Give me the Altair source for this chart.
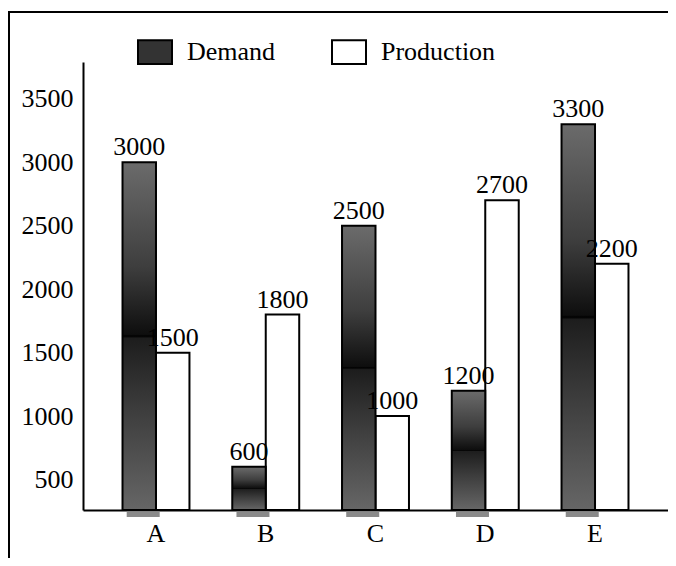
import altair as alt
import pandas as pd

categories = ["A", "B", "C", "D", "E"]
demand = [3000, 600, 2500, 1200, 3300]
production = [1500, 1800, 1000, 2700, 2200]
series_names = ["Demand", "Production"]
y_ticks = [500, 1000, 1500, 2000, 2500, 3000, 3500]

rows = []
for c, d, p in zip(categories, demand, production):
    rows.append({"cat": c, "series": "Demand", "value": d})
    rows.append({"cat": c, "series": "Production", "value": p})
df = pd.DataFrame(rows)

Y_MIN, Y_MAX = 260, 3790
SERIF = "Times New Roman, Liberation Serif, DejaVu Serif, serif"
FS = 26
W, H = 585, 448

x_enc = alt.X(
    "cat:N", sort=categories,
    scale=alt.Scale(paddingInner=0.39, paddingOuter=0.36),
    axis=alt.Axis(title=None, labelAngle=0, ticks=False, domainWidth=2,
                  domainColor="black", labelFont=SERIF, labelFontSize=FS,
                  labelColor="black", labelPadding=10),
)
xoff = alt.XOffset("series:N", sort=series_names,
                   scale=alt.Scale(domain=series_names, paddingInner=0, paddingOuter=0))
y_enc = alt.Y(
    "value:Q",
    scale=alt.Scale(domain=[Y_MIN, Y_MAX], zero=False, nice=False, clamp=True),
    axis=alt.Axis(title=None, values=y_ticks, ticks=False, grid=False, domainWidth=2,
                  domainColor="black", labelFont=SERIF, labelFontSize=FS,
                  labelColor="black", labelPadding=10, format="d"),
)

base = alt.Chart(df)

grad = alt.Gradient(
    gradient="linear",
    stops=[
        alt.GradientStop(color="#6b6b6b", offset=0),
        alt.GradientStop(color="#3e3e3e", offset=0.3),
        alt.GradientStop(color="#0e0e0e", offset=0.495),
        alt.GradientStop(color="#000000", offset=0.5),
        alt.GradientStop(color="#1d1d1d", offset=0.506),
        alt.GradientStop(color="#3e3e3e", offset=0.72),
        alt.GradientStop(color="#666666", offset=1),
    ],
    x1=0, x2=0, y1=0, y2=1,
)

prod_bars = base.transform_filter(alt.datum.series == "Production").mark_bar(
    stroke="black", strokeWidth=2
).encode(
    x=x_enc, xOffset=xoff, y=y_enc,
    fill=alt.Fill(
        "series:N",
        scale=alt.Scale(domain=series_names, range=["#333333", "white"]),
        legend=alt.Legend(
            title=None, orient="none", legendX=54, legendY=-28, direction="horizontal",
            symbolType="M-1,-0.7H1V0.7H-1Z", symbolSize=1156,
            symbolStrokeColor="black", symbolStrokeWidth=2, symbolOpacity=1,
            labelFont=SERIF, labelFontSize=FS, labelColor="black",
            labelOffset=14, columnPadding=52, padding=0,
        ),
    ),
)

shadow = base.transform_filter(alt.datum.series == "Demand").mark_point(
    shape="M-0.76,0.1H1.24V0.42H-0.76Z", size=1089, filled=True,
    color="#8a8a8a", opacity=1, strokeWidth=0,
).encode(x=x_enc, xOffset=xoff, y=alt.value(H))

dem_bars = base.transform_filter(alt.datum.series == "Demand").mark_bar(
    fill=grad, stroke="black", strokeWidth=2
).encode(x=x_enc, xOffset=xoff, y=y_enc)

labels = base.mark_text(
    baseline="bottom", dy=-2, font=SERIF, fontSize=FS, color="black"
).encode(x=x_enc, xOffset=xoff, y=y_enc, text=alt.Text("value:Q", format="d"))

one = alt.Chart(pd.DataFrame({"k": [0]}))
frame_left = one.mark_rule(color="black", strokeWidth=2).encode(
    x=alt.value(-74), y=alt.value(-50), y2=alt.value(H + 48))
frame_top = one.mark_rule(color="black", strokeWidth=2).encode(
    x=alt.value(-75), x2=alt.value(W), y=alt.value(-50))

chart = alt.layer(
    frame_left, frame_top, shadow, prod_bars, dem_bars, labels
).properties(
    width=W, height=H,
    background="white",
    autosize=alt.AutoSizeParams(type="none"),
    padding={"left": 75, "top": 54, "right": 0, "bottom": 48},
).configure_view(stroke=None)

chart.save("out.html", embed_options={"renderer": "svg", "actions": False})
